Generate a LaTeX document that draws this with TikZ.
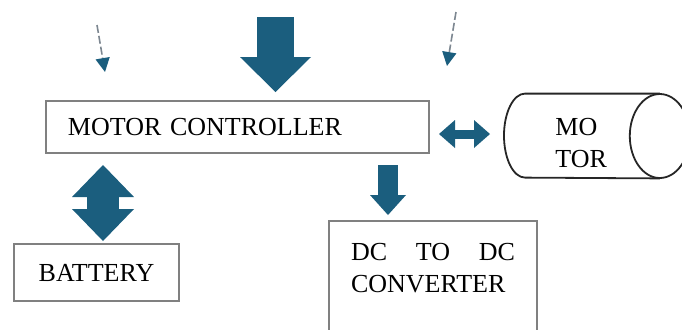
\documentclass[tikz,border=0pt]{standalone}
\usepackage{fontspec}
\setmainfont{Liberation Serif}
\usetikzlibrary{arrows.meta,positioning,calc}
\definecolor{c1}{RGB}{27, 94, 126}
\definecolor{c2}{RGB}{125, 135, 145}
\tikzset{
	box/.style={
		rectangle, draw=black!50, line width=1pt, fill=white, inner sep=0pt,
		font=\fontsize{13}{16}\selectfont
	},
	%
	motortext/.style={
		rectangle, inner sep=0pt, font=\fontsize{13}{16}\selectfont
	},
	%
	fat/.style={
		draw=c1, line width=#1
	},
	%
	feed/.style={
		draw=c2, line width=0.8pt, dash pattern=on 4pt off 1.5pt,
		-{Triangle[length=7pt, width=7pt, color=c1]}
	},
	%
	cyl/.style={
		draw=black!85, line width=0.9pt, line join=round
	}
}

\begin{document}
\begin{tikzpicture}[x=0.5pt, y=-0.5pt]
\useasboundingbox (0,0) rectangle (682,329);
\clip (0,0) rectangle (682,329);
\node(ctrl)[box, anchor=north west, text width=169.5pt, inner xsep=11pt, minimum height=26pt, align=left] at (45,100) {MOTOR CONTROLLER};
\node(batt)[box, below=44.5pt of ctrl.south west, anchor=north west, xshift=-16pt, minimum width=82.5pt, minimum height=28.5pt]{BATTERY};
\node(conv)[box, below=33pt of ctrl.south west, anchor=north west, xshift=141.5pt, text width=82pt, inner xsep=11pt, inner ysep=11pt, text depth=40pt, align=left]{DC\hfill TO\hfill DC\\CONVERTER};
\node(motor)[motortext, right=37pt of ctrl.east, yshift=-4.5pt, text width=41.5pt, inner xsep=25.5pt, minimum height=42pt, text height=16pt, align=left]{MO\\TOR};
% motor drawn as a lying cylinder
\draw[cyl] ([xshift=-15pt]motor.north east) -- ([xshift=10.5pt]motor.north west)
	arc[start angle=90, end angle=270, x radius=10.5pt, y radius=21pt]
	-- ([xshift=-15pt]motor.south east);
\draw[cyl] ([xshift=-15pt]motor.east) ellipse [x radius=15pt, y radius=21pt];
% block arrows
\coordinate (supply) at (275.5,17);
\draw[fat=18.5pt, -{Triangle[length=17.5pt, width=35.5pt, line width=0pt]}, shorten >=4pt] (supply) -- (supply |- ctrl.north);
\coordinate (dcin) at ([xshift=30pt]conv.north west);
\draw[fat=10pt, -{Triangle[length=10pt, width=18pt, line width=0pt]}, shorten <=5.5pt, shorten >=2.5pt] (dcin |- ctrl.south) -- (dcin);
\coordinate (batin) at ([xshift=3.25pt]batt.north);
\draw[fat=16pt, {Triangle[length=16pt, width=31pt, line width=0pt]}-{Triangle[length=16pt, width=31pt, line width=0pt]}, shorten <=5.5pt, shorten >=1pt] (batin |- ctrl.south) -- (batin);
\draw[fat=4.5pt, {Triangle[length=8pt, width=14pt, line width=0pt]}-{Triangle[length=8pt, width=14pt, line width=0pt]}, shorten <=4.5pt, shorten >=7pt] ([yshift=1pt]ctrl.east |- motor.west) -- ([yshift=1pt]motor.west);
% thin input arrows
\coordinate (s1) at (97,25);
\coordinate (e1) at (105,72);
\coordinate (s2) at (456,12);
\coordinate (e2) at (447,66);
\draw[feed] (s1) -- (e1);
\draw[feed] (s2) -- (e2);
\end{tikzpicture}
\end{document}
